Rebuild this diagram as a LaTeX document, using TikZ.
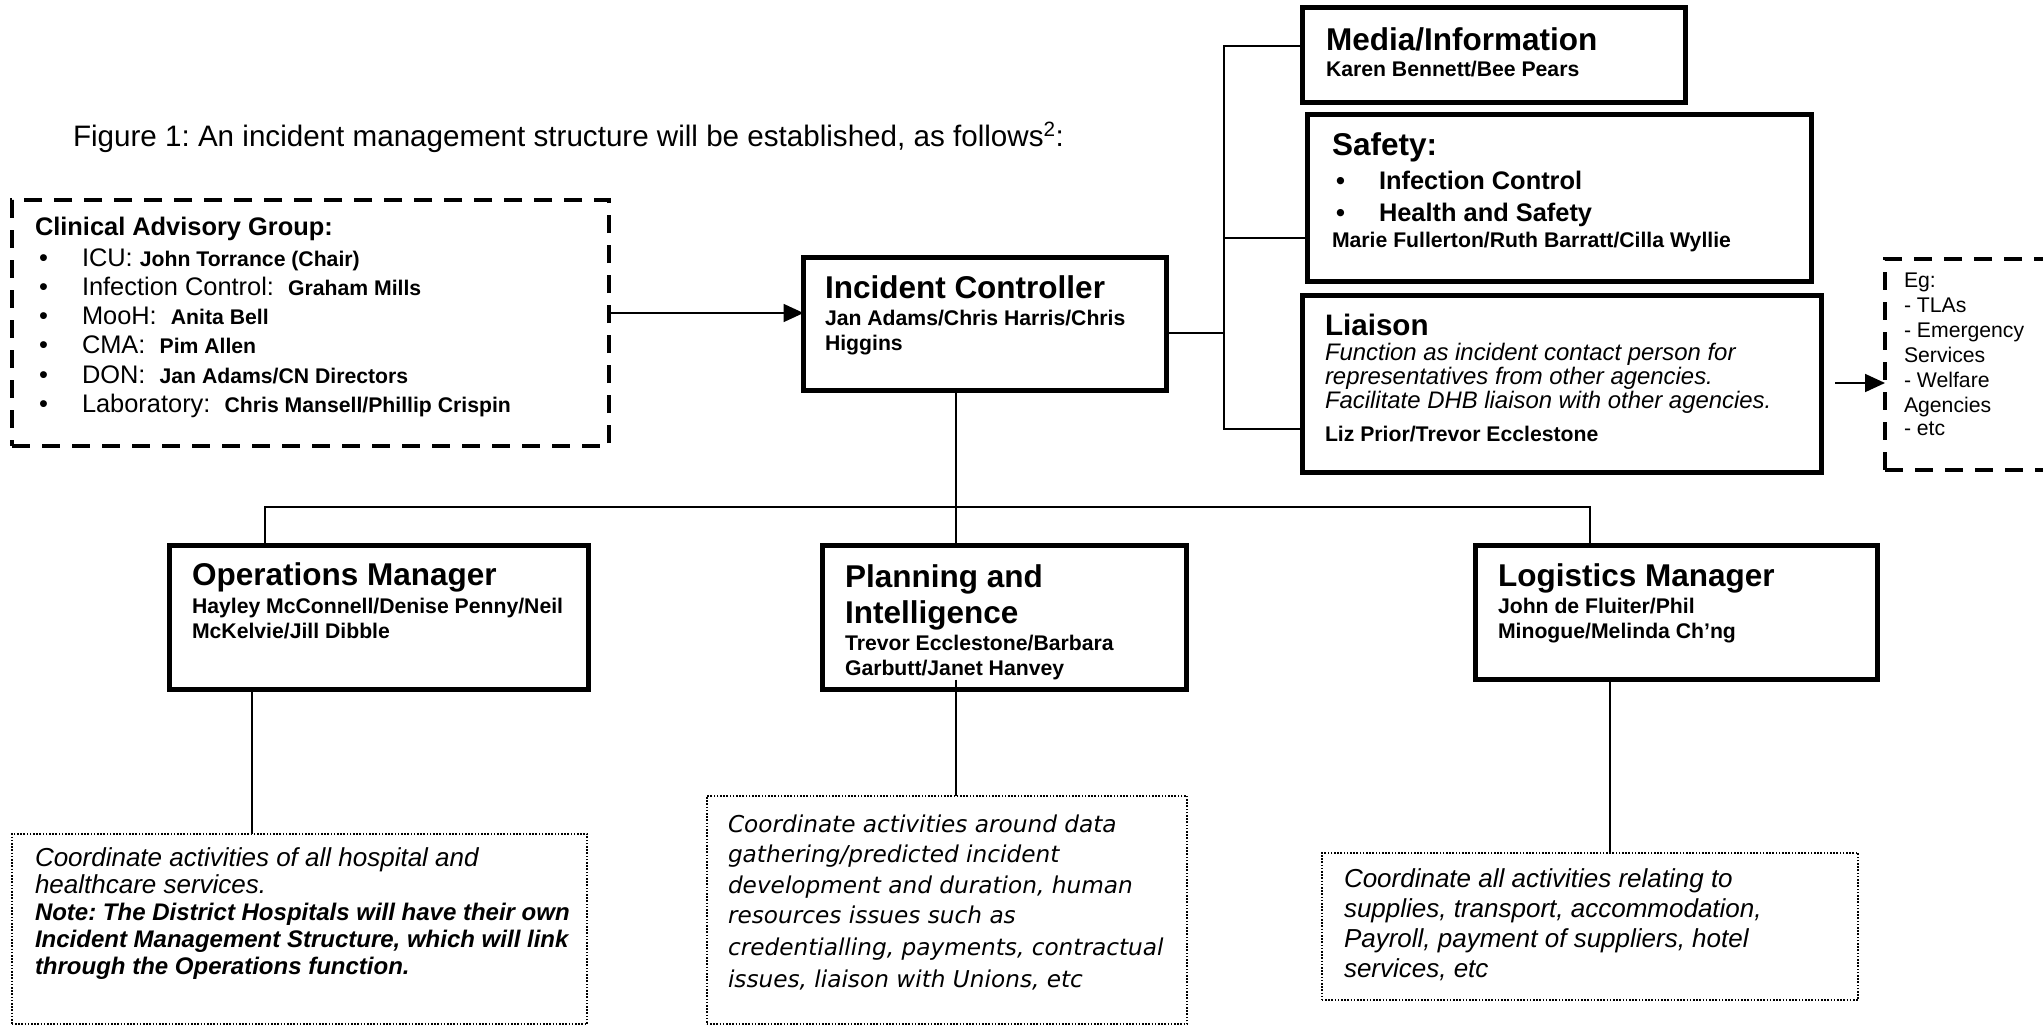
\documentclass[tikz,border=0pt]{standalone}
\usepackage{fontspec}
\setmainfont{Liberation Sans}
\newfontfamily\tahomafont{DejaVu Sans}
\usetikzlibrary{arrows.meta,calc}
\newcommand\fsz[1]{\fontsize{#1}{#1}\selectfont}
\frenchspacing
\begin{document}
\begin{tikzpicture}[x=1pt,y=-1pt,
  bx/.style={draw, line width=5pt, rectangle, inner sep=0pt, outer sep=0pt},
  dbox/.style={draw, line width=4pt, dash pattern=on 18pt off 12pt, rectangle, inner sep=0pt, outer sep=0pt},
  notebox/.style={draw, line width=1.6pt, dash pattern=on 1.6pt off 1.6pt, rectangle, inner sep=0pt, outer sep=0pt},
  conn/.style={line width=1.8pt},
  arr/.style={conn, -{Triangle[length=20pt,width=18pt]}},
  txt/.style={anchor=base west, inner sep=0pt, outer sep=0pt},
  ttl/.style={txt, font=\bfseries\fsz{31.5}},
  nm/.style={txt, font=\bfseries\fsz{21.2}},
  reg/.style={txt, font=\fsz{25.4}},
  small/.style={txt, font=\fsz{21.2}},
  itx/.style={txt, font=\itshape\fsz{26}},
  bitx/.style={txt, font=\bfseries\itshape\fsz{24}},
  tah/.style={txt, font=\tahomafont\itshape\fsz{23.2}}
]
\fill[white] (0,0) rectangle (2043,1026);
\useasboundingbox (0,0) rectangle (2043,1026);

% ---------- boxes ----------
\node[dbox, minimum width=597pt, minimum height=246pt] (cag) at (310.5,323) {};
\node[bx, minimum width=363pt, minimum height=133pt] (ic) at (985,324) {};
\node[bx, minimum width=383pt, minimum height=95pt] (media) at (1494,55) {};
\node[bx, minimum width=504pt, minimum height=167pt] (safety) at (1559.5,198) {};
\node[bx, minimum width=519pt, minimum height=177pt] (liaison) at (1562,384) {};
\node[dbox, minimum width=233pt, minimum height=211pt] (eg) at (2001.5,364.5) {};
\node[bx, minimum width=419pt, minimum height=144pt] (ops) at (379,617.5) {};
\node[bx, minimum width=364pt, minimum height=144pt] (plan) at (1004.5,617.5) {};
\node[bx, minimum width=402pt, minimum height=134pt] (log) at (1676.5,612.5) {};
\node[notebox, minimum width=575.4pt, minimum height=190.4pt] (opsnote) at (299.5,929) {};
\node[notebox, minimum width=480.4pt, minimum height=228.4pt] (plannote) at (947,910) {};
\node[notebox, minimum width=536.4pt, minimum height=147.4pt] (lognote) at (1590,926.5) {};

% ---------- helper coordinates ----------
\coordinate (ya) at (0,313);
\coordinate (yic) at (0,333);
\coordinate (sp) at (1224,0);
\coordinate (ym) at (0,46);
\coordinate (ys) at (0,238);
\coordinate (yl) at (0,429);
\coordinate (egstart) at (1835,383);
\coordinate (xic) at (956,0);
\coordinate (bus) at (0,507);
\coordinate (xo) at (265,0);
\coordinate (xl) at (1590,0);
\coordinate (xon) at (252,0);
\coordinate (xln) at (1610,0);

% ---------- connectors ----------
\draw[arr] (cag.east |- ya) -- (ic.west |- ya);
\draw[conn] (ic.east |- yic) -- (sp |- yic);
\draw[conn] (media.west |- ym) -- (sp |- ym) -- (sp |- yl) -- (liaison.west |- yl);
\draw[conn] (sp |- ys) -- (safety.west |- ys);
\draw[arr] (egstart) -- (eg.west |- egstart);
\draw[conn] (ic.south -| xic) -- (plan.north -| xic);
\draw[conn] (ops.north -| xo) -- (xo |- bus) -- (xl |- bus) -- (log.north -| xl);
\draw[conn] (ops.south -| xon) -- (opsnote.north -| xon);
\draw[conn] ($(plan.south -| xic)+(0,-10)$) -- (plannote.north -| xic);
\draw[conn] (log.south -| xln) -- (lognote.north -| xln);

% ---------- title ----------
\node[txt, font=\fsz{29.6}] (title) at (73,146) {Figure 1: An incident management structure will be established, as follows\textsuperscript{2}:};

% ---------- Clinical Advisory Group ----------
\node[txt, font=\bfseries\fsz{25.4}] (cagh) at (35,235) {Clinical Advisory Group:};
\node[reg] (cb1) at (39,266) {\textbullet};
\node[reg] (cb2) at (39,295) {\textbullet};
\node[reg] (cb3) at (39,324) {\textbullet};
\node[reg] (cb4) at (39,353) {\textbullet};
\node[reg] (cb5) at (39,383) {\textbullet};
\node[reg] (cb6) at (39,412) {\textbullet};
\node[reg] (ci1) at (82,266) {ICU: {\bfseries\fsz{21.2}John Torrance (Chair)}};
\node[reg] (ci2) at (82,295) {Infection Control:\ \ {\bfseries\fsz{21.2}Graham Mills}};
\node[reg] (ci3) at (82,324) {MooH:\ \ {\bfseries\fsz{21.2}Anita Bell}};
\node[reg] (ci4) at (82,353) {CMA:\ \ {\bfseries\fsz{21.2}Pim Allen}};
\node[reg] (ci5) at (82,383) {DON:\ \ {\bfseries\fsz{21.2}Jan Adams/CN Directors}};
\node[reg] (ci6) at (82,412) {Laboratory:\ \ {\bfseries\fsz{21.2}Chris Mansell/Phillip Crispin}};

% ---------- Incident Controller ----------
\node[ttl] (ict) at (825,298) {Incident Controller};
\node[nm] (icn1) at (825,325) {Jan Adams/Chris Harris/Chris};
\node[nm] (icn2) at (825,350) {Higgins};

% ---------- Media ----------
\node[ttl] (mt) at (1326,50) {Media/Information};
\node[nm] (mn) at (1326,76) {Karen Bennett/Bee Pears};

% ---------- Safety ----------
\node[ttl] (st) at (1332,155) {Safety:};
\node[txt, font=\bfseries\fsz{25.4}] (sb1) at (1336,189) {\textbullet};
\node[txt, font=\bfseries\fsz{25.4}] (sb2) at (1336,221) {\textbullet};
\node[txt, font=\bfseries\fsz{25.4}] (si1) at (1379,189) {Infection Control};
\node[txt, font=\bfseries\fsz{25.4}] (si2) at (1379,221) {Health and Safety};
\node[nm] (sn) at (1332,247) {Marie Fullerton/Ruth Barratt/Cilla Wyllie};

% ---------- Liaison ----------
\node[txt, font=\bfseries\fsz{29.6}] (lt) at (1325,335) {Liaison};
\node[txt, font=\itshape\fsz{23.9}] (l1) at (1325,360) {Function as incident contact person for};
\node[txt, font=\itshape\fsz{23.9}] (l2) at (1325,384) {representatives from other agencies.};
\node[txt, font=\itshape\fsz{23.9}] (l3) at (1325,408) {Facilitate DHB liaison with other agencies.};
\node[nm] (ln) at (1325,441) {Liz Prior/Trevor Ecclestone};

% ---------- Eg box ----------
\node[small] (e1) at (1904,287) {Eg:};
\node[small] (e2) at (1904,312) {- TLAs};
\node[small] (e3) at (1904,337) {- Emergency};
\node[small] (e4) at (1904,362) {Services};
\node[small] (e5) at (1904,387) {- Welfare};
\node[small] (e6) at (1904,412) {Agencies};
\node[small] (e7) at (1904,435) {- etc};

% ---------- Operations ----------
\node[ttl] (ot) at (192,585) {Operations Manager};
\node[nm] (on1) at (192,613) {Hayley McConnell/Denise Penny/Neil};
\node[nm] (on2) at (192,638) {McKelvie/Jill Dibble};

% ---------- Planning ----------
\node[ttl] (pt1) at (845,587) {Planning and};
\node[ttl] (pt2) at (845,623) {Intelligence};
\node[nm] (pn1) at (845,650) {Trevor Ecclestone/Barbara};
\node[nm] (pn2) at (845,675) {Garbutt/Janet Hanvey};

% ---------- Logistics ----------
\node[ttl] (gt) at (1498,586) {Logistics Manager};
\node[nm] (gn1) at (1498,613) {John de Fluiter/Phil};
\node[nm] (gn2) at (1498,638) {Minogue/Melinda Ch’ng};

% ---------- notes ----------
\node[itx] (o1) at (35,866) {Coordinate activities of all hospital and};
\node[itx] (o2) at (35,893) {healthcare services.};
\node[bitx] (o3) at (35,920) {Note: The District Hospitals will have their own};
\node[bitx] (o4) at (35,947) {Incident Management Structure, which will link};
\node[bitx] (o5) at (35,974) {through the Operations function.};

\node[tah] (p1) at (728,832) {Coordinate activities around data};
\node[tah] (p2) at (728,862) {gathering/predicted incident};
\node[tah] (p3) at (728,893) {development and duration, human};
\node[tah] (p4) at (728,923) {resources issues such as};
\node[tah] (p5) at (728,955) {credentialling, payments, contractual};
\node[tah] (p6) at (728,987) {issues, liaison with Unions, etc};

\node[itx] (g1) at (1344,887) {Coordinate all activities relating to};
\node[itx] (g2) at (1344,917) {supplies, transport, accommodation,};
\node[itx] (g3) at (1344,947) {Payroll, payment of suppliers, hotel};
\node[itx] (g4) at (1344,977) {services, etc};
\end{tikzpicture}
\end{document}
